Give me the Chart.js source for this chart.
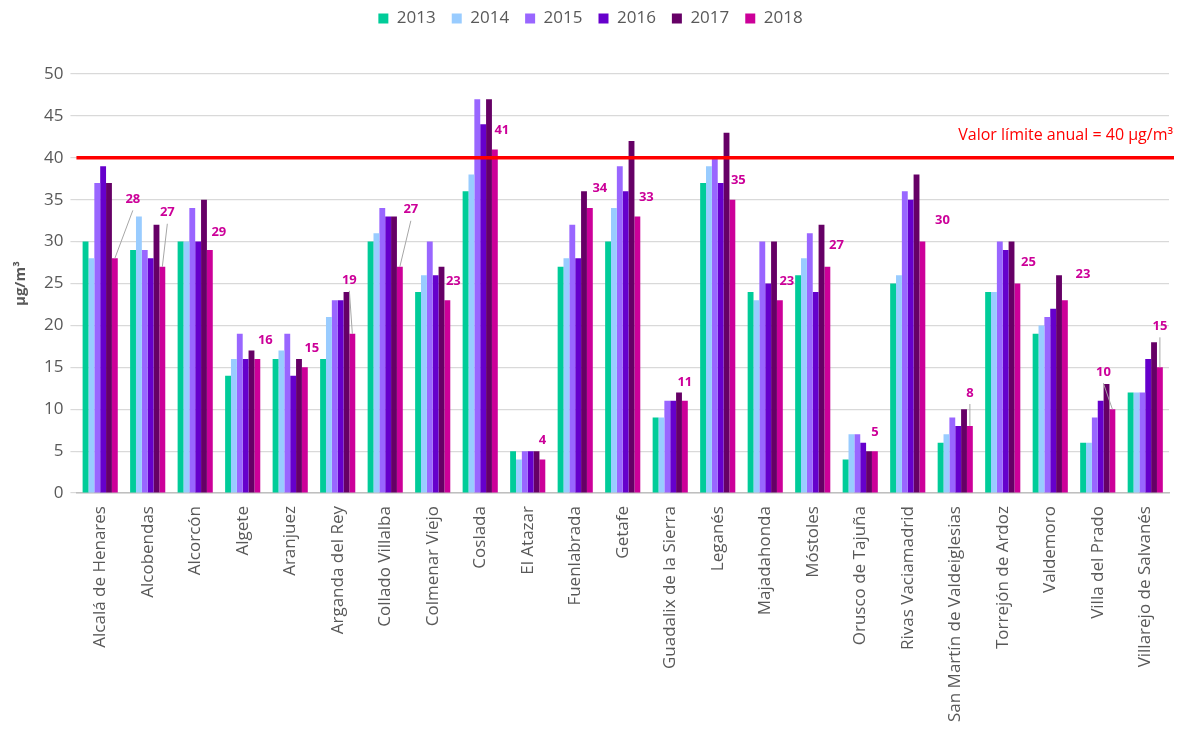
<!DOCTYPE html>
<html>
<head>
<meta charset="utf-8">
<style>
  html, body { margin: 0; padding: 0; background: #fff; }
  #wrap { width: 1179px; height: 731px; }
</style>
</head>
<body>
<div id="wrap"><canvas id="calc"></canvas></div>
<script src="https://cdn.jsdelivr.net/npm/chart.js@4/dist/chart.umd.min.js"></script>
<script>
var municipios = ["Alcalá de Henares","Alcobendas","Alcorcón","Algete","Aranjuez","Arganda del Rey",
  "Collado Villalba","Colmenar Viejo","Coslada","El Atazar","Fuenlabrada","Getafe",
  "Guadalix de la Sierra","Leganés","Majadahonda","Móstoles","Orusco de Tajuña","Rivas Vaciamadrid",
  "San Martín de Valdeiglesias","Torrejón de Ardoz","Valdemoro","Villa del Prado","Villarejo de Salvanés"];
var anios = ["2013","2014","2015","2016","2017","2018"];
var v2013 = [30,29,30,14,16,16,30,24,36,5,27,30,9,37,24,26,4,25,6,24,19,6,12];
var v2014 = [28,33,30,16,17,21,31,26,38,4,28,34,9,39,23,28,7,26,7,24,20,6,12];
var v2015 = [37,29,34,19,19,23,34,30,47,5,32,39,11,40,30,31,7,36,9,30,21,9,12];
var v2016 = [39,28,30,16,14,23,33,26,44,5,28,36,11,37,25,24,6,35,8,29,22,11,16];
var v2017 = [37,32,35,17,16,24,33,27,47,5,36,42,12,43,30,32,5,38,10,30,26,13,18];
var v2018 = [28,27,29,16,15,19,27,23,41,4,34,33,11,35,23,27,5,30,8,25,23,10,15];
var yTicks = [0,5,10,15,20,25,30,35,40,45,50];
var limite = 40;
var limiteTexto = "Valor límite anual = 40 µg/m³";

var colores = ["#00CC99","#99CCFF","#9966FF","#6600CC","#660066","#CC0099"];
// label nudges (px, relative to the 2018 bar top)
var etqDx = [18,5,9,8,7,-3,11,6,7,0,10,9,0,6,7,9,0,20,0,11,18,-9,0];
var etqDy = [-59,-54,-18,-19,-19,-54,-57,-19,-19,-19,-20,-19,-19,-19,-19,-21,-19,-21,-33,-21,-26,-37,-41];

var series = [v2013,v2014,v2015,v2016,v2017,v2018];
var t_data = { labels: municipios, datasets: [] };
for (var i = 0; i < series.length; i++) {
  t_data.datasets.push({
    label: anios[i],
    data: series[i],
    backgroundColor: colores[i],
    borderWidth: 0,
    categoryPercentage: 0.74,
    barPercentage: 1.0
  });
}

var FONT = "'Open Sans', sans-serif";

var extras = {
  id: "extras",
  beforeInit: function(chart) {
    var fit = chart.legend.fit;
    chart.legend.fit = function() {
      fit.bind(this)();
      this.height += 37;
    };
  },
  afterDatasetsDraw: function(chart) {
    var ctx = chart.ctx, ys = chart.scales.y, area = chart.chartArea;
    // red limit line
    var yl = ys.getPixelForValue(limite);
    ctx.save();
    ctx.strokeStyle = "#FF0000";
    ctx.lineWidth = 3.5;
    ctx.beginPath();
    ctx.moveTo(area.left, yl);
    ctx.lineTo(area.right + 5, yl);
    ctx.stroke();
    ctx.fillStyle = "#FF0000";
    ctx.font = "16px " + FONT;
    ctx.textAlign = "right";
    ctx.textBaseline = "middle";
    ctx.fillText(limiteTexto, area.right + 4, yl - 22);
    // 2018 labels
    var meta = chart.getDatasetMeta(5);
    ctx.font = "bold 13px " + FONT;
    ctx.textAlign = "center";
    for (var k = 0; k < meta.data.length; k++) {
      var bar = meta.data[k];
      var lx = bar.x + etqDx[k], ly = bar.y + etqDy[k];
      if (etqDy[k] < -28) {
        ctx.strokeStyle = "#A6A6A6";
        ctx.lineWidth = 1;
        ctx.beginPath();
        ctx.moveTo(lx, ly + 11);
        ctx.lineTo(bar.x, bar.y);
        ctx.stroke();
      }
      ctx.fillStyle = "#CC0099";
      ctx.fillText(String(v2018[k]), lx, ly);
    }
    ctx.restore();
  }
};

window.m_config = {
  type: "bar",
  data: t_data,
  plugins: [extras],
  options: {
    responsive: true,
    maintainAspectRatio: false,
    animation: false,
    layout: { padding: { left: 12, right: 10, top: -6, bottom: -4 } },
    plugins: {
      legend: {
        position: "top",
        labels: {
          boxWidth: 10, boxHeight: 10, padding: 16,
          color: "#595959",
          font: { family: FONT, size: 17 }
        }
      },
      tooltip: { enabled: false }
    },
    scales: {
      x: {
        grid: { display: false, drawTicks: false },
        border: { color: "#BFBFBF", width: 1.5 },
        ticks: {
          color: "#595959", minRotation: 90, maxRotation: 90, autoSkip: false,
          padding: 13,
          font: { family: FONT, size: 17 }
        }
      },
      y: {
        min: 0, max: 50,
        afterBuildTicks: function(axis) {
          axis.ticks = yTicks.map(function(v) { return { value: v }; });
        },
        grid: { color: "#D9D9D9", lineWidth: 1.2, tickLength: 6, tickColor: "#D9D9D9" },
        border: { display: false },
        ticks: {
          color: "#595959", padding: 7,
          font: { family: FONT, size: 17 }
        },
        title: {
          display: true, text: "µg/m³", color: "#595959",
          font: { family: FONT, size: 15, weight: "bold" },
          padding: { top: 0, bottom: 7 }
        }
      }
    }
  }
};
var ctx = document.getElementById("calc").getContext("2d");
window.fat_chart = new Chart(ctx, window.m_config);
</script>
</body>
</html>
